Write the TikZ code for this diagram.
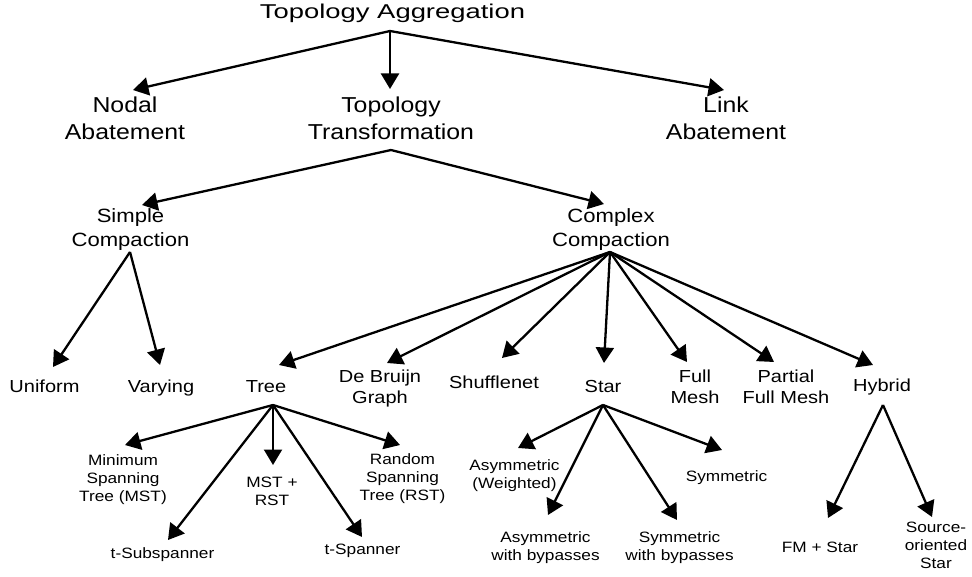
\documentclass[tikz,border=0pt]{standalone}
\usepackage{fontspec}
\setmainfont{Liberation Sans}[FakeStretch=1.15]
\newfontfamily\titlefont{Liberation Sans}[FakeStretch=1.37]
\usetikzlibrary{arrows.meta}

\begin{document}
\begin{tikzpicture}[x=1pt,y=-1pt,
  lbl/.style={inner sep=0pt,outer sep=0pt,align=center,text=black},
  rootlbl/.style={lbl,font=\titlefont\fontsize{20}{24}\selectfont},
  lvlone/.style={lbl,font=\fontsize{21.6}{27}\selectfont},
  lvltwo/.style={lbl,font=\fontsize{19.2}{24}\selectfont},
  lvlthree/.style={lbl,font=\fontsize{17.4}{21}\selectfont},
  leaf/.style={lbl,font=\fontsize{15}{18}\selectfont},
  arr/.style={line width=2.3pt,-{Triangle[length=15.5pt,width=18pt]}}]

\useasboundingbox (0,0) rectangle (972,577);

% ---- labels ----
\node[rootlbl] (agg) at (392.5,13.1) {Topology Aggregation};

\node[lvlone] (nodal) at (125,118.6) {Nodal\\Abatement};
\node[lvlone] (trans) at (391,118.6) {Topology\\Transformation};
\node[lvlone] (link)  at (726,118.6) {Link\\Abatement};

\node[lvltwo] (simple)  at (130.5,230) {Simple\\Compaction};
\node[lvltwo] (complex) at (611,230)   {Complex\\Compaction};

\node[lvlthree] (uniform) at (44.5,386.6) {Uniform};
\node[lvlthree] (varying) at (161,388.5)  {Varying};
\node[lvlthree] (tree)    at (266,386.6)  {Tree};
\node[lvlthree] (debruijn) at (380,389)   {De Bruijn\\Graph};
\node[lvlthree] (shuffle) at (494,382.7)  {Shufflenet};
\node[lvlthree] (star)    at (603,386.6)  {Star};
\node[lvlthree] (fullmesh) at (695,387.2) {Full\\Mesh};
\node[lvlthree] (partial) at (786,387.2)  {Partial\\Full Mesh};
\node[lvlthree] (hybrid)  at (882,387.5)  {Hybrid};

\node[leaf] (mst)    at (123,479.5)   {Minimum\\Spanning\\Tree (MST)};
\node[leaf] (tsub)   at (162.5,554.5) {t-Subspanner};
\node[leaf] (mstrst) at (272,491.4)   {MST +\\RST};
\node[leaf] (tspan)  at (362.5,550.5) {t-Spanner};
\node[leaf] (rst)    at (402.5,478.5) {Random\\Spanning\\Tree (RST)};

\node[leaf] (asymw)  at (514.5,475.5) {Asymmetric\\(Weighted)};
\node[leaf] (asymby) at (545.5,547.5) {Asymmetric\\with bypasses};
\node[leaf] (symby)  at (679.5,547.5) {Symmetric\\with bypasses};
\node[leaf] (sym)    at (726.5,477.5) {Symmetric};

\node[leaf] (fmstar) at (820,547) {FM + Star};
\node[leaf] (source) at (936,545) {Source-\\oriented\\Star};

% ---- connectors ----
\draw[arr] ([shift={(-2.5,17.9)}]agg.center) -- ([shift={(8,-28.6)}]nodal.center);
\draw[arr] ([shift={(-2.5,17.9)}]agg.center) -- ([shift={(-1,-29.6)}]trans.center);
\draw[arr] ([shift={(-2.5,17.9)}]agg.center) -- ([shift={(-2,-28.6)}]link.center);

\draw[arr] ([shift={(0,31.4)}]trans.center) -- ([shift={(11.5,-25)}]simple.center);
\draw[arr] ([shift={(0,31.4)}]trans.center) -- ([shift={(-7,-26)}]complex.center);

\draw[arr] ([shift={(-0.5,22)}]simple.center) -- ([shift={(8.5,-19.6)}]uniform.center);
\draw[arr] ([shift={(-0.5,22)}]simple.center) -- ([shift={(-1,-23.5)}]varying.center);

\foreach \child/\dx/\dy in {tree/13/-21.6, debruijn/7/-26, shuffle/8/-24.7,
    star/1/-23.6, fullmesh/-8/-25.2, partial/-12/-25.2, hybrid/-9/-22.5}
  \draw[arr] ([shift={(-1,22)}]complex.center) -- ([shift={(\dx,\dy)}]\child.center);

\foreach \child/\dx/\dy in {mst/2/-34.5, tsub/5.5/-14.5, mstrst/1/-26.4,
    tspan/-0.5/-13.5, rst/-2.5/-33.5}
  \draw[arr] ([shift={(7,18.4)}]tree.center) -- ([shift={(\dx,\dy)}]\child.center);

\foreach \child/\dx/\dy in {asymw/3.5/-27.5, asymby/2.5/-32.5, symby/-2.5/-27.5,
    sym/-4.5/-27.5}
  \draw[arr] ([shift={(0,18.4)}]star.center) -- ([shift={(\dx,\dy)}]\child.center);

\draw[arr] ([shift={(1,17.5)}]hybrid.center) -- ([shift={(8,-29)}]fmstar.center);
\draw[arr] ([shift={(1,17.5)}]hybrid.center) -- ([shift={(-4,-28)}]source.center);

\end{tikzpicture}
\end{document}
